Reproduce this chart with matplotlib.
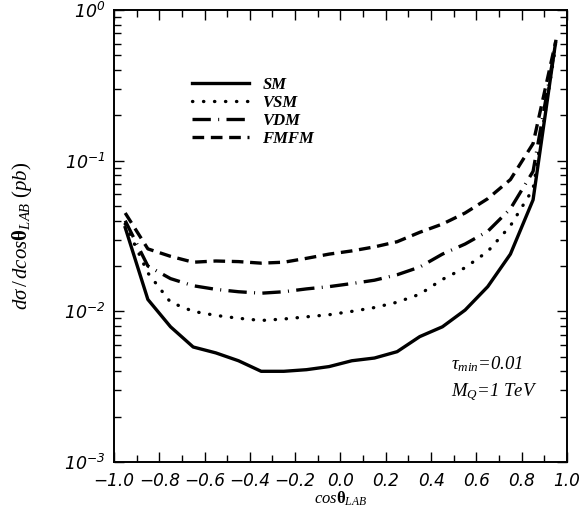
import matplotlib
matplotlib.use("Agg")
import matplotlib.pyplot as plt
from matplotlib.ticker import LogLocator, MultipleLocator, FixedLocator, NullFormatter

# cos(theta_LAB) grid
cos_theta = [-0.95, -0.85, -0.75, -0.65, -0.55, -0.45, -0.35, -0.25, -0.15, -0.05,
             0.05, 0.15, 0.25, 0.35, 0.45, 0.55, 0.65, 0.75, 0.85, 0.95]

# dsigma/dcos (pb)
sm = [0.036, 0.012, 0.0079, 0.0058, 0.0053, 0.0047, 0.0040, 0.0040, 0.0041, 0.0043,
      0.0047, 0.0049, 0.0054, 0.0068, 0.0079, 0.0102, 0.0146, 0.024, 0.055, 0.62]
vsm = [0.038, 0.018, 0.0115, 0.0100, 0.0094, 0.0090, 0.0087, 0.0089, 0.0092, 0.0095,
       0.0100, 0.0106, 0.0115, 0.0130, 0.0163, 0.0195, 0.025, 0.037, 0.065, 0.58]
vdm = [0.040, 0.020, 0.0165, 0.0148, 0.0140, 0.0135, 0.0132, 0.0135, 0.0141, 0.0146,
       0.0153, 0.0161, 0.0175, 0.0197, 0.0240, 0.028, 0.034, 0.048, 0.085, 0.60]
fmfm = [0.045, 0.026, 0.0232, 0.0212, 0.0216, 0.0214, 0.0209, 0.0212, 0.0225, 0.0240,
        0.0252, 0.0268, 0.0290, 0.0335, 0.038, 0.045, 0.056, 0.075, 0.13, 0.62]

xticks = [-1.0, -0.8, -0.6, -0.4, -0.2, 0.0, 0.2, 0.4, 0.6, 0.8, 1.0]
xticklabels = ['\u22121.0', '\u22120.8', '\u22120.6', '\u22120.4', '\u22120.2',
               '0.0', '0.2', '0.4', '0.6', '0.8', '1.0']
yticks = [1e-3, 1e-2, 1e-1, 1e0]
yticklabels = ['$\\mathsf{10^{-3}}$', '$\\mathsf{10^{-2}}$', '$\\mathsf{10^{-1}}$', '$\\mathsf{10^{0}}$']

plt.rcParams['mathtext.fontset'] = 'custom'
plt.rcParams['mathtext.rm'] = 'Liberation Serif'
plt.rcParams['mathtext.it'] = 'Liberation Serif:italic'
plt.rcParams['mathtext.bf'] = 'Liberation Serif:bold'
plt.rcParams['mathtext.sf'] = 'DejaVu Sans:italic'

fig = plt.figure(figsize=(5.81, 5.08), dpi=100)
ax = fig.add_axes([0.196, 0.0906, 0.780, 0.8894])

ax.plot(cos_theta, sm, color='black', lw=2.4, linestyle='-', label='SM')
ax.plot(cos_theta, vsm, color='black', lw=2.4, linestyle=(0, (0.1, 3.2)),
        dash_capstyle='round', label='VSM')
ax.plot(cos_theta, vdm, color='black', lw=2.4, linestyle=(0, (5.5, 2.2, 0.3, 2.2)),
        label='VDM')
ax.plot(cos_theta, fmfm, color='black', lw=2.4, linestyle=(0, (3.5, 2.0)), label='FMFM')

ax.set_yscale('log')
ax.set_xlim(-1.0, 1.0)
ax.set_ylim(1e-3, 1.0)

ax.xaxis.set_major_locator(FixedLocator(xticks))
ax.set_xticklabels(xticklabels, fontsize=12.2, style='italic', family='DejaVu Sans')
ax.xaxis.set_minor_locator(MultipleLocator(0.1))
ax.yaxis.set_major_locator(FixedLocator(yticks))
ax.set_yticklabels(yticklabels, fontsize=12.5)
ax.yaxis.set_minor_locator(LogLocator(base=10, subs=range(2, 10)))
ax.yaxis.set_minor_formatter(NullFormatter())

ax.tick_params(which='both', direction='in', top=True, right=True, width=1.0)
ax.tick_params(which='major', length=7)
ax.tick_params(which='minor', length=5)
ax.tick_params(axis='x', pad=7)
ax.tick_params(axis='y', pad=6)
for s in ax.spines.values():
    s.set_linewidth(1.4)

ax.set_xlabel(r'$\mathit{cos}\mathbf{\theta}_{LAB}$', fontsize=12, labelpad=0)
ax.set_ylabel(r'$d\sigma\,/\,d\mathit{cos}\mathbf{\theta}_{LAB}\ (pb)$', fontsize=15, labelpad=22)

leg = ax.legend(loc='upper left', bbox_to_anchor=(0.14, 0.885), frameon=False,
                handlelength=3.4, labelspacing=0.12, handletextpad=0.8,
                prop={'family': 'Liberation Serif', 'style': 'italic',
                      'weight': 'bold', 'size': 12})

ax.text(0.745, 0.205, r'$\tau_{min}$=0.01', transform=ax.transAxes, fontsize=13.5,
        family='Liberation Serif', style='italic')
ax.text(0.745, 0.145, r'$M_Q$=1 TeV', transform=ax.transAxes, fontsize=13.5,
        family='Liberation Serif', style='italic')

fig.savefig('out.png', dpi=100)
